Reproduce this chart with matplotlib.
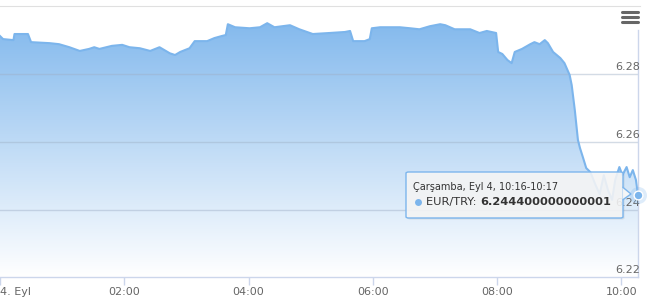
import numpy as np
import matplotlib
matplotlib.use("Agg")
import matplotlib.pyplot as plt
from matplotlib.patches import FancyBboxPatch, Polygon
from matplotlib.colors import LinearSegmentedColormap
from matplotlib.lines import Line2D
from matplotlib.transforms import blended_transform_factory, offset_copy

# ---------------- data ----------------
times = ["00:00", "00:03", "00:13", "00:14", "00:27", "00:30", "00:48", "00:57", "01:07", "01:17",
         "01:26", "01:31", "01:36", "01:48", "01:58", "02:05", "02:15", "02:25", "02:34", "02:44",
         "02:49", "02:54", "03:03", "03:08", "03:20", "03:27", "03:34", "03:38", "03:40", "03:47",
         "04:01", "04:11", "04:18", "04:25", "04:40", "04:49", "05:02", "05:18", "05:33", "05:38",
         "05:41", "05:52", "05:57", "05:59", "06:07", "06:26", "06:36", "06:45", "06:55", "07:05",
         "07:10", "07:19", "07:34", "07:43", "07:50", "07:59", "08:01", "08:05", "08:10", "08:14",
         "08:17", "08:24", "08:32", "08:36", "08:41", "08:46", "08:49", "08:54", "09:01", "09:05",
         "09:10", "09:12", "09:15", "09:18", "09:20", "09:23", "09:26", "09:30", "09:35", "09:39",
         "09:43", "09:47", "09:51", "09:54", "09:58", "10:01", "10:05", "10:08", "10:11", "10:14",
         "10:16"]
eur_try = [6.2913, 6.2904, 6.2901, 6.2919, 6.2919, 6.2895, 6.2892, 6.2889, 6.2880, 6.2869,
           6.2875, 6.2880, 6.2875, 6.2884, 6.2887, 6.2880, 6.2877, 6.2869, 6.2880, 6.2862,
           6.2857, 6.2866, 6.2877, 6.2898, 6.2898, 6.2907, 6.2913, 6.2916, 6.2948, 6.2939,
           6.2936, 6.2939, 6.2951, 6.2939, 6.2945, 6.2933, 6.2919, 6.2922, 6.2925, 6.2928,
           6.2898, 6.2898, 6.2904, 6.2936, 6.2939, 6.2939, 6.2936, 6.2933, 6.2942, 6.2948,
           6.2945, 6.2933, 6.2933, 6.2922, 6.2928, 6.2922, 6.2866, 6.2860, 6.2842, 6.2833,
           6.2866, 6.2875, 6.2889, 6.2895, 6.2889, 6.2901, 6.2892, 6.2866, 6.2848, 6.2833,
           6.2798, 6.2768, 6.2694, 6.2606, 6.2582, 6.2553, 6.2523, 6.2511, 6.2473, 6.2446,
           6.2502, 6.2458, 6.2429, 6.2488, 6.2526, 6.2502, 6.2526, 6.2496, 6.2517, 6.2488,
           6.2444]
x_ticks = ["00:00", "02:00", "04:00", "06:00", "08:00", "10:00"]
x_tick_labels = ["4. Eyl", "02:00", "04:00", "06:00", "08:00", "10:00"]
y_ticks = [6.22, 6.24, 6.26, 6.28, 6.30]
y_tick_labels = ["6.22", "6.24", "6.26", "6.28", ""]
series_name = "EUR/TRY"
tooltip_header = "Çarşamba, Eyl 4, 10:16-10:17"
tooltip_value = "6.244400000000001"


def to_min(s):
    h, m = s.split(":")
    return int(h) * 60 + int(m)


x = np.array([to_min(t) for t in times], dtype=float)
y = np.array(eur_try)
xt = [to_min(t) for t in x_ticks]

W, H = 650, 306
plt.rcParams['font.family'] = ['DejaVu Sans']
fig = plt.figure(figsize=(W / 100, H / 100), dpi=100)


def fx(px):
    return px / W


def fy(py):
    return 1 - py / H


ax = fig.add_axes([fx(0), fy(277.4), fx(638), (277.4 - 6.6) / H])
ax.set_xlim(0, x[-1])
ax.set_ylim(6.22, 6.30)
for s in ax.spines.values():
    s.set_visible(False)
ax.set_facecolor("white")

SER = "#7cb5ec"

# gradient fill
grad = np.linspace(0, 1, 256).reshape(-1, 1)
cmap = LinearSegmentedColormap.from_list("g", [SER, "#ffffff"])
im = ax.imshow(grad, cmap=cmap, aspect="auto", extent=[0, x[-1], 6.22, 6.30],
               origin="upper", zorder=1, interpolation="bilinear")
clip = Polygon(np.column_stack([np.r_[x, x[-1], x[0]], np.r_[y, 6.22, 6.22]]),
               closed=True, transform=ax.transData, facecolor="none", edgecolor="none")
ax.add_patch(clip)
im.set_clip_path(clip)

# grid lines
for v in y_ticks[1:-1]:
    ax.axhline(v, color="#9fb0c6", lw=1, alpha=0.45, zorder=2)

# series line
ax.plot(x, y, color=SER, lw=1.5, zorder=3, solid_joinstyle="round")

# x axis
ax.axhline(6.22, color="#ccd6eb", lw=1, zorder=4, clip_on=False)
ax.set_xticks(xt)
ax.set_xticklabels(x_tick_labels)
ax.tick_params(axis="x", length=6, width=1, color="#ccd6eb", labelsize=8,
               labelcolor="#666666", pad=1)
ax.get_xticklabels()[0].set_horizontalalignment("left")
ax.set_yticks([])

# right axis line (starts below menu button)
ax.plot([x[-1], x[-1]], [6.22, 6.2931], color="#ccd6eb", lw=1, zorder=4, clip_on=False)

# y labels inside on the right
bt = blended_transform_factory(ax.transAxes, ax.transData)
bt = offset_copy(bt, fig=fig, x=0, y=2, units="dots")
for v, lab in zip(y_ticks, y_tick_labels):
    if lab:
        ax.text(640 / 638, v, lab, transform=bt, ha="right", va="bottom",
                fontsize=8, color="#666666", zorder=4, clip_on=False)

# top grid line
fig.add_artist(Line2D([fx(0), fx(640)], [fy(5.5), fy(5.5)], color="#e0e0e0", lw=0.8))

# halo + marker at last point
ax.scatter([x[-1]], [y[-1]], s=150, color=SER, alpha=0.25, lw=0, zorder=5, clip_on=False)
ax.scatter([x[-1]], [y[-1]], s=40, color=SER, edgecolor="white", lw=1, zorder=6, clip_on=False)

# tooltip
tx0, ty0, tx1, ty1 = 406, 172, 623, 218
shadow = FancyBboxPatch((fx(tx0 + 1.5), fy(ty1 + 1.5)), fx(tx1 - tx0), (ty1 - ty0) / H,
                        boxstyle="round,pad=0,rounding_size=0.004", transform=fig.transFigure,
                        facecolor="black", alpha=0.08, edgecolor="none", zorder=8)
fig.add_artist(shadow)
tip = FancyBboxPatch((fx(tx0), fy(ty1)), fx(tx1 - tx0), (ty1 - ty0) / H,
                     boxstyle="round,pad=0,rounding_size=0.004", transform=fig.transFigure,
                     facecolor=(0.97, 0.97, 0.97, 0.88), edgecolor=SER, lw=1, zorder=9)
fig.add_artist(tip)
ptr = Polygon([[fx(tx1 - 0.5), fy(187)], [fx(631), fy(194)], [fx(tx1 - 0.5), fy(200)]],
              closed=False, transform=fig.transFigure, facecolor=(0.97, 0.97, 0.97, 0.95),
              edgecolor=SER, lw=1, zorder=10)
fig.add_artist(ptr)
fig.text(fx(413), fy(187), tooltip_header, fontsize=7, color="#333333",
         ha="left", va="center", zorder=11)
fig.add_artist(Line2D([fx(418)], [fy(202)], marker="o", markersize=5,
                      markerfacecolor=SER, markeredgecolor="none", zorder=11))
t1 = fig.text(fx(426), fy(202), series_name + ": ", fontsize=8.2, color="#333333",
              ha="left", va="center", zorder=11)
fig.canvas.draw()
bb = t1.get_window_extent()
fig.text(bb.x1 / W, fy(202), tooltip_value, fontsize=8.2, color="#333333",
         fontweight="bold", ha="left", va="center", zorder=11)

# menu (hamburger) icon
for yy in (12.3, 17.3, 22.3):
    fig.add_artist(Line2D([fx(622), fx(638)], [fy(yy), fy(yy)], color="#666666",
                          lw=2.2, solid_capstyle="round"))

fig.savefig("out.png", dpi=100)
